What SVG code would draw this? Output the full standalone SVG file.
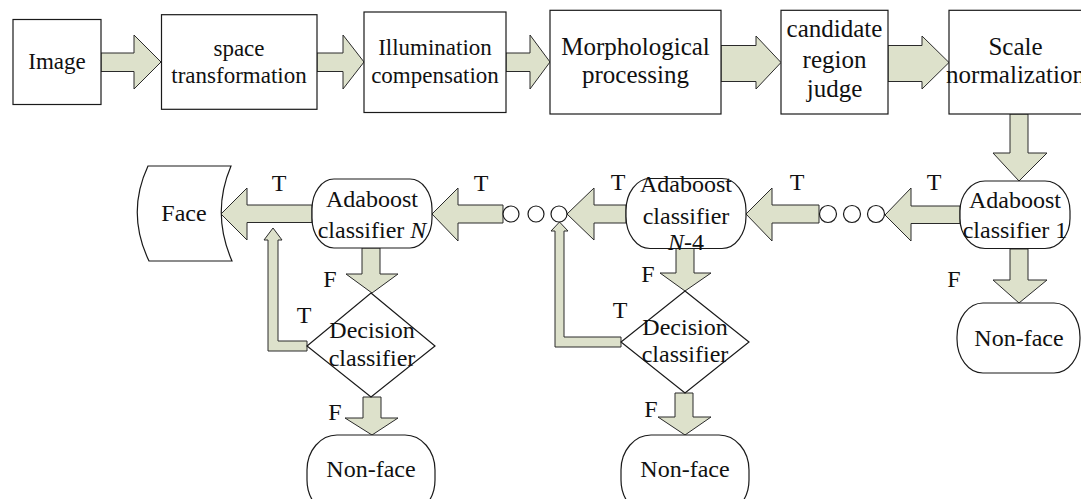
<svg xmlns="http://www.w3.org/2000/svg" width="1081" height="499" viewBox="0 0 1081 499">
<style>
.box{fill:#fff;stroke:#1a1a1a;stroke-width:1.2}
.arr{fill:#dde1cb;stroke:#2a2a2a;stroke-width:1}
.t{font-family:"Liberation Serif","Times New Roman",serif;fill:#111;text-anchor:middle}
.s23{font-size:23px}
.s24{font-size:24px}
.s25{font-size:25px}
</style>
<rect width="1081" height="499" fill="#fff"/>
<g id="connectors">
<polygon class="arr" points="101,53 134,53 134,35 161,62 134,89 134,71.5 101,71.5"/>
<polygon class="arr" points="317,53 343,53 343,35 364,62 343,89 343,71.5 317,71.5"/>
<polygon class="arr" points="506,53 530,53 530,35 550,62 530,89 530,71.5 506,71.5"/>
<polygon class="arr" points="721,45.5 756,45.5 756,36 781,62.5 756,89 756,81.5 721,81.5"/>
<polygon class="arr" points="888,45.5 922,45.5 922,36 949,62.5 922,89 922,81.5 888,81.5"/>
<polygon class="arr" points="1010,114 1028,114 1028,153 1047,153 1019,181 993,153 1010,153"/>
<polygon class="arr" points="960,206 911,206 911,188 885,215 911,241 911,223.5 960,223.5"/>
<polygon class="arr" points="819,205 772,205 772,188 746,214 772,241 772,223 819,223"/>
<polygon class="arr" points="626,205 594,205 594,188 567,214 594,240 594,223 626,223"/>
<polygon class="arr" points="503,205 458,205 458,188 432,214 458,241 458,223 503,223"/>
<polygon class="arr" points="312,205 247,205 247,188 221,214 247,240 247,222.5 312,222.5"/>
<polygon class="arr" points="362,248 380,248 380,274 398,274 372,293 346,274 362,274"/>
<polygon class="arr" points="363,397 381,397 381,418 398,418 372,435 345,418 363,418"/>
<polygon class="arr" points="676,248 694,248 694,273 711,273 685,291 660,273 676,273"/>
<polygon class="arr" points="675,393 693,393 693,417 711,417 685,435 658,417 675,417"/>
<polygon class="arr" points="1010,249 1028,249 1028,280 1047,280 1019,303 993,280 1010,280"/>
<polygon class="arr" points="307,341 278,341 278,240 282,240 273,228 264,240 268,240 268,351 307,351"/>
<polygon class="arr" points="621,337 564,337 564,231 568,231 559.5,222 551,231 555,231 555,347 621,347"/>
<circle class="box" cx="511" cy="214" r="8"/>
<circle class="box" cx="536" cy="214" r="8"/>
<circle class="box" cx="559" cy="214" r="8"/>
<circle class="box" cx="828" cy="214" r="8.5"/>
<circle class="box" cx="852" cy="214" r="8.5"/>
<circle class="box" cx="876" cy="214" r="8.5"/>
</g>
<g id="image"><rect class="box" x="13" y="19.5" width="88" height="85"/><text class="t s23" x="57" y="69">Image</text></g>
<g id="space"><rect class="box" x="161.5" y="14.7" width="155.5" height="94.6"/><text class="t s23" x="239" y="56">space</text><text class="t s23" x="239" y="83">transformation</text></g>
<g id="illum"><rect class="box" x="364" y="12" width="142" height="100.5"/><text class="t s23" x="435" y="55">Illumination</text><text class="t s23" x="435" y="83">compensation</text></g>
<g id="morph"><rect class="box" x="550" y="10.3" width="171" height="103.7"/><text class="t s25" x="635.5" y="55">Morphological</text><text class="t s25" x="635.5" y="83">processing</text></g>
<g id="cand"><rect class="box" x="781" y="10.3" width="107" height="103.7"/><text class="t s25" x="834.5" y="37">candidate</text><text class="t s25" x="834.5" y="68">region</text><text class="t s25" x="834.5" y="97">judge</text></g>
<g id="scale"><rect class="box" x="949" y="10.3" width="140" height="103.7"/><text class="t s25" x="1015.5" y="55">Scale</text><text class="t s25" x="1015.5" y="83">normalization</text></g>
<g id="ada1"><rect class="box" x="960" y="181" width="110" height="67.5" rx="25" ry="30"/><text class="t s24" x="1015" y="208">Adaboost</text><text class="t s24" x="1015" y="238">classifier 1</text></g>
<g id="nonface3"><rect class="box" x="957" y="303" width="123" height="70" rx="26" ry="34"/><text class="t s24" x="1019" y="346">Non-face</text></g>
<g id="adaN4"><rect class="box" x="626" y="178.5" width="120" height="70" rx="24" ry="32"/><text class="t s24" x="686" y="192">Adaboost</text><text class="t s24" x="686" y="223.5">classifier</text><text class="t s24" x="686" y="250"><tspan font-style="italic">N</tspan>-4</text></g>
<g id="adaN"><rect class="box" x="312" y="179" width="120" height="69" rx="22" ry="30"/><text class="t s24" x="372" y="207">Adaboost</text><text class="t s24" x="372" y="238">classifier <tspan font-style="italic">N</tspan></text></g>
<g id="face"><path class="box" d="M148,166 L231,166 Q211,213 232,261 L149,261 Q126,213 148,166 Z"/><text class="t s24" x="184" y="221">Face</text></g>
<g id="dec1"><polygon class="box" points="371,293 435,346 371,397 307,346"/><text class="t s24" x="372" y="338">Decision</text><text class="t s24" x="372" y="366">classifier</text></g>
<g id="dec2"><polygon class="box" points="685,291 749,342 685,393 621,342"/><text class="t s24" x="685" y="335">Decision</text><text class="t s24" x="685" y="362">classifier</text></g>
<g id="nonface1"><rect class="box" x="307" y="435" width="128" height="80" rx="30" ry="35"/><text class="t s24" x="371" y="477">Non-face</text></g>
<g id="nonface2"><rect class="box" x="621" y="435" width="128" height="80" rx="30" ry="35"/><text class="t s24" x="685" y="477">Non-face</text></g>
<g id="labels">
<text class="t s24" x="279" y="191">T</text>
<text class="t s24" x="481" y="191">T</text>
<text class="t s24" x="618" y="190">T</text>
<text class="t s24" x="797" y="190">T</text>
<text class="t s24" x="934" y="190">T</text>
<text class="t s24" x="330" y="287">F</text>
<text class="t s24" x="648" y="282">F</text>
<text class="t s24" x="954" y="287">F</text>
<text class="t s24" x="304" y="323">T</text>
<text class="t s24" x="620" y="318">T</text>
<text class="t s24" x="335" y="420">F</text>
<text class="t s24" x="651" y="417">F</text>
</g>
</svg>
